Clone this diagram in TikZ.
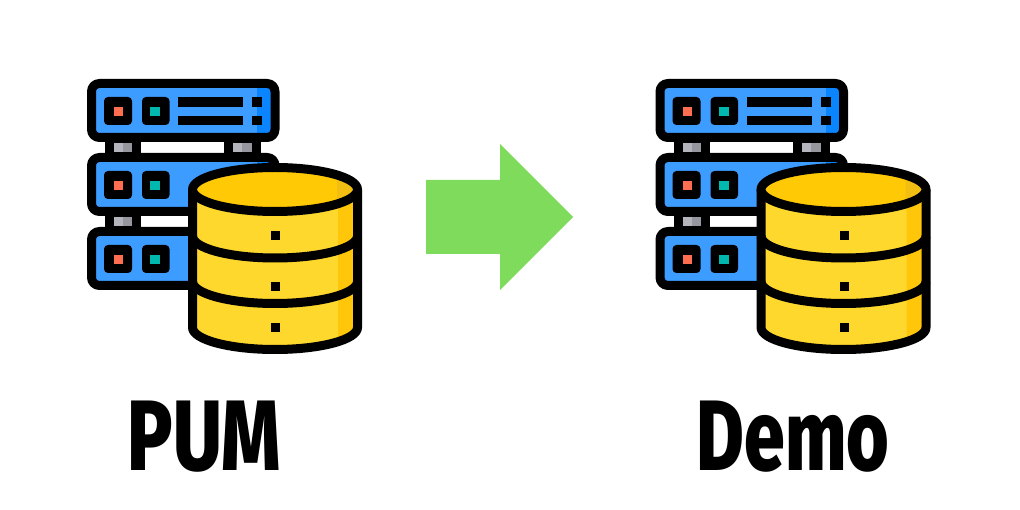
\documentclass[tikz,border=0pt]{standalone}
\usepackage{fontspec}
\usepackage{graphicx}
\setmainfont{Fira Sans}[BoldFont={Fira Sans ExtraBold}]
\definecolor{srvblue}{HTML}{3D9CFF}
\definecolor{srvdark}{HTML}{0A85FF}
\definecolor{ledred}{HTML}{FF6E50}
\definecolor{ledteal}{HTML}{00B8AE}
\definecolor{gaugeL}{HTML}{B4B4BC}
\definecolor{gaugeD}{HTML}{96969E}
\definecolor{dbyellow}{HTML}{FFD82E}
\definecolor{dbshade}{HTML}{FFC60A}
\definecolor{dbtop}{HTML}{FFC905}
\definecolor{dbtopd}{HTML}{F2BE12}
\definecolor{arrowgreen}{HTML}{7EDB5B}
\tikzset{
  outline/.style={line width=9pt,draw=black,line join=round},
  solid black/.style={fill=black,draw=none},
  button/.style={fill=black,draw=none,rounded corners=4pt},
  titletext/.style={inner sep=0pt,text=black,font=\bfseries},
}
\newcommand{\serverbar}[2]{% #1 = top of outer box, #2 = 1 to show the text bars
  \begin{scope}[yshift=-#1pt]
    \fill[srvblue,rounded corners=6pt] (91.5,4.5) rectangle (275,58.5);
    \fill[srvdark,rounded corners=6pt] (255,4.5) rectangle (275,58.5);
    \fill[srvblue] (250,4.5) rectangle (257,58.5);
    \draw[outline,rounded corners=8pt] (91.5,4.5) rectangle (275,58.5);
    \fill[button] (104,18) rectangle (132,46);
    \fill[button] (142,18) rectangle (169.5,46);
    \fill[ledred] (114,28) rectangle (123,37);
    \fill[ledteal] (150,28) rectangle (160,37);
    \ifnum#2=1
      \fill[solid black] (178,18) rectangle (243,28);
      \fill[solid black] (178,37) rectangle (243,46);
      \fill[solid black] (252,18) rectangle (262,28);
      \fill[solid black] (252,37) rectangle (262,46);
    \fi
  \end{scope}
}
\newcommand{\gauge}[3]{% #1 left outer x, #2 right outer x, #3 top y
  \fill[black] (#1,#3-2) rectangle (#2,#3+12);
  \fill[gaugeL] (#1+9,#3+1) rectangle (#2-9,#3+10);
  \fill[gaugeD] (#1+18,#3+1) rectangle (#2-9,#3+10);
}
\newcommand{\dbband}[1]{%
  \draw[line width=9pt,black,line cap=butt] (192.5,#1-22) arc[start angle=180,end angle=0,x radius=82.5,y radius=22];
}
\newcommand{\storageicon}[1]{%
  \begin{scope}[xshift=#1pt]
    \gauge{105}{141}{142}
    \gauge{224}{261}{142}
    \gauge{105}{141}{216}
    \serverbar{79}{1}
    \serverbar{153}{0}
    \serverbar{227}{0}
    % cylinder body
    \fill[dbyellow] (192.5,189.5) -- (192.5,327.5) arc[start angle=180,end angle=0,x radius=82.5,y radius=22] -- (357.5,189.5) -- cycle;
    \fill[dbshade] (338,189.5) -- (338,346) .. controls (346,343) and (357.5,336) .. (357.5,327.5) -- (357.5,189.5) -- cycle;
    \draw[outline] (192.5,189.5) -- (192.5,327.5) arc[start angle=180,end angle=0,x radius=82.5,y radius=22] -- (357.5,189.5);
    \dbband{258}
    \dbband{303.5}
    % lid
    \fill[dbtop] (275,189.5) ellipse[x radius=82.5,y radius=22];
    \begin{scope}
      \clip (337,160) rectangle (360,220);
      \fill[dbtopd] (275,189.5) ellipse[x radius=82.5,y radius=22];
    \end{scope}
    \draw[outline] (275,189.5) ellipse[x radius=82.5,y radius=22];
    \fill[solid black] (271,231) rectangle (280,240);
    \fill[solid black] (271,282) rectangle (280,291);
    \fill[solid black] (271,323) rectangle (280,332);
  \end{scope}
}
\begin{document}
\begin{tikzpicture}[x=1pt,y=-1pt]
  \useasboundingbox[fill=white] (0,0) rectangle (1020,510);
  \storageicon{0}
  \storageicon{568.5}
  \fill[arrowgreen] (426,180) -- (500,180) -- (500,144) -- (573,217) -- (500,290) -- (500,254) -- (426,254) -- cycle;
  \node[titletext,anchor=south west] (pum) at (127.5,472.5) {\resizebox{153.5pt}{69.5pt}{PUM}};
  \node[titletext,anchor=south west] (demo) at (696.5,473) {\resizebox{192.5pt}{69.5pt}{Demo}};
\end{tikzpicture}
\end{document}
